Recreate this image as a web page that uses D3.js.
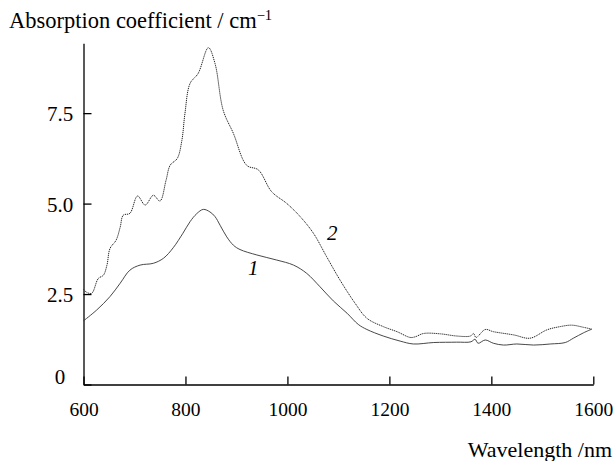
<!DOCTYPE html>
<html>
<head>
<meta charset="utf-8">
<script src="https://cdn.jsdelivr.net/npm/d3@7"></script>
<style>
  body { margin: 0; background: #fff; }
  svg { display: block; font-family: "Liberation Serif", "Times New Roman", serif; }
  .axis path, .axis line { stroke: #000; stroke-width: 1.3; }
  .axis text { font-size: 19.5px; font-family: "Liberation Serif", serif; fill: #000; }
</style>
</head>
<body>
<svg id="chart" width="613" height="461"></svg>
<script>
// curve 1 (solid)
const wave1 = [600, 626, 652, 672, 691, 711, 737, 757, 776, 795, 809, 822, 835, 848, 858, 868, 881, 894, 907, 940,
  979, 1012, 1038, 1064, 1090, 1117, 1139, 1156, 1188, 1221, 1247, 1287, 1332, 1360, 1368, 1374, 1388, 1404, 1424,
  1450, 1483, 1516, 1545, 1561, 1581, 1597];
const abs1 = [1.76, 2.06, 2.43, 2.80, 3.16, 3.30, 3.35, 3.49, 3.78, 4.18, 4.50, 4.72, 4.84, 4.77, 4.64, 4.40, 4.08, 3.85, 3.73, 3.58,
  3.44, 3.30, 3.07, 2.70, 2.31, 1.97, 1.66, 1.52, 1.34, 1.20, 1.12, 1.16, 1.17, 1.18, 1.25, 1.14, 1.23, 1.14, 1.09,
  1.12, 1.09, 1.12, 1.16, 1.28, 1.43, 1.53];

// curve 2 (dotted)
const wave2 = [600, 606, 616, 629, 639, 646, 652, 664, 672, 678, 691, 706, 721, 737, 750, 762, 770, 784, 793, 799,
  809, 825, 845, 858, 874, 894, 920, 943, 969, 999, 1025, 1051, 1077, 1103, 1133, 1156, 1188, 1215, 1241, 1251,
  1267, 1300, 1332, 1359, 1365, 1370, 1388, 1404, 1444, 1476, 1509, 1535, 1558, 1581, 1597];
const abs2 = [2.63, 2.55, 2.52, 2.93, 3.02, 3.30, 3.76, 3.99, 4.35, 4.68, 4.73, 5.21, 4.96, 5.23, 5.07, 5.65, 6.06, 6.25, 6.75, 7.49,
  8.32, 8.60, 9.31, 8.87, 7.58, 6.94, 6.06, 5.93, 5.33, 5.00, 4.64, 4.18, 3.53, 2.89, 2.24, 1.83, 1.60, 1.46, 1.30, 1.32,
  1.41, 1.40, 1.34, 1.34, 1.41, 1.30, 1.52, 1.46, 1.37, 1.28, 1.51, 1.60, 1.64, 1.58, 1.53];

const xTicks = [600, 800, 1000, 1200, 1400, 1600];
const yTicks = [0, 2.5, 5.0, 7.5];
const yTickLabels = ["0", "2.5", "5.0", "7.5"];

const svg = d3.select("#chart");

const x = d3.scaleLinear().domain([600, 1600]).range([83.5, 593.3]);
const y = d3.scaleLinear().domain([0, 9.43]).range([384.5, 43.3]);

// x axis, ticks pointing inward
svg.append("g")
  .attr("class", "axis")
  .attr("transform", `translate(0,${y(0)})`)
  .call(d3.axisBottom(x).tickValues(xTicks).tickSizeInner(-8).tickSizeOuter(0).tickPadding(18).tickFormat(d3.format("d")));

// y axis, labels drawn separately (centred)
const yAxis = svg.append("g")
  .attr("class", "axis")
  .attr("transform", `translate(${x(600)},0)`)
  .call(d3.axisLeft(y).tickValues(yTicks).tickSizeInner(-8).tickSizeOuter(0));
yAxis.selectAll("text").remove();

svg.selectAll(".ylab")
  .data(yTicks)
  .join("text")
  .attr("class", "ylab")
  .attr("x", 60)
  .attr("y", d => d === 0 ? y(d) - 1 : y(d) + 8)
  .attr("text-anchor", "middle")
  .attr("font-size", 21)
  .text((d, i) => yTickLabels[i]);

const line = d3.line()
  .x(d => x(d[0]))
  .y(d => y(d[1]))
  .curve(d3.curveCatmullRom.alpha(0.5));

svg.append("path")
  .datum(d3.zip(wave1, abs1))
  .attr("d", line)
  .attr("fill", "none")
  .attr("stroke", "#333")
  .attr("stroke-width", 0.9);

svg.append("path")
  .datum(d3.zip(wave2, abs2))
  .attr("d", line)
  .attr("fill", "none")
  .attr("stroke", "#222")
  .attr("stroke-width", 1)
  .attr("stroke-dasharray", "1.2,0.8");

// curve numbers
svg.append("text")
  .attr("x", x(933)).attr("y", y(3.04))
  .attr("text-anchor", "middle")
  .attr("font-size", 21).attr("font-style", "italic")
  .text("1");
svg.append("text")
  .attr("x", x(1088)).attr("y", y(3.99))
  .attr("text-anchor", "middle")
  .attr("font-size", 21).attr("font-style", "italic")
  .text("2");

// axis titles
const title = svg.append("text")
  .attr("x", 9).attr("y", 28)
  .attr("font-size", 22.5);
title.append("tspan").text("Absorption coefficient / cm");
title.append("tspan").attr("dy", -8).attr("font-size", 14.5).text("−1");

svg.append("text")
  .attr("x", 612).attr("y", 457)
  .attr("text-anchor", "end")
  .attr("font-size", 22)
  .text("Wavelength /nm");
</script>
</body>
</html>
